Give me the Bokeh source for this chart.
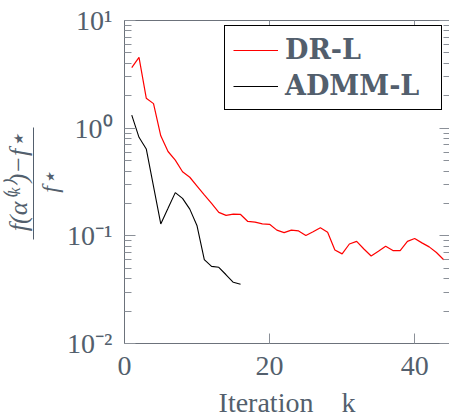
import math
from bokeh.plotting import figure
from bokeh.models import (FixedTicker, LogAxis, LinearAxis, Range1d, Legend)
from bokeh.embed import file_html
from bokeh.resources import INLINE

# ---- data ----
k_dr = list(range(1, 45))
dr_l = [3.65, 4.55, 1.90, 1.69, 0.85, 0.607, 0.505, 0.394, 0.35, 0.29,
        0.24, 0.20, 0.165, 0.155, 0.159, 0.158, 0.136, 0.134, 0.129, 0.128,
        0.113, 0.107, 0.113, 0.111, 0.1007, 0.109, 0.119, 0.108, 0.074, 0.068,
        0.084, 0.0888, 0.0755, 0.065, 0.072, 0.080, 0.073, 0.073, 0.0888, 0.0944,
        0.086, 0.079, 0.070, 0.060]
k_admm = list(range(1, 17))
admm_l = [1.32, 0.822, 0.641, 0.288, 0.129, 0.18, 0.252, 0.223, 0.177, 0.124,
          0.060, 0.052, 0.051, 0.0435, 0.037, 0.0355]
x_ticks = [0, 20, 40]
x_tick_labels = ["0", "20", "40"]
y_ticks = [0.01, 0.1, 1.0, 10.0]
y_tick_labels = ["10\u207b\u00b2", "10\u207b\u00b9", "10\u2070", "10\u00b9"]
x_label = "Iteration\u2003k"
y_label_num = "f(\u03b1\u207d\u1d4f\u207e)\u2212f\u22c6"
y_label_den = "f\u22c6"

TEXT = "#535f6d"
AXIS = "#6c727b"
TICK = "#8b9098"
SERIF = "Liberation Serif"

p = figure(width=449, height=420, y_axis_type="log",
           x_range=Range1d(0, 44.8), y_range=Range1d(0.01, 10),
           output_backend="svg", toolbar_location=None,
           x_axis_location=None, y_axis_location=None)
p.min_border_left = 124
p.min_border_right = 0
p.min_border_top = 20
p.min_border_bottom = 73
p.outline_line_color = None
p.xgrid.visible = False
p.ygrid.visible = False
p.background_fill_color = "white"
p.border_fill_color = "white"

minor_y = [round(m * 10 ** e, 6) for e in (-2, -1, 0) for m in range(2, 10)]

def hide_labels(ax):
    ax.major_label_text_font_size = "1px"
    ax.major_label_text_alpha = 0
    ax.major_label_standoff = 0

# left axis with tick labels (closest to the frame)
ya = LogAxis(ticker=FixedTicker(ticks=y_ticks, minor_ticks=minor_y))
ya.axis_line_color = AXIS
ya.major_tick_line_color = TICK
ya.minor_tick_line_color = TICK
ya.major_tick_in, ya.major_tick_out = 11, 0
ya.minor_tick_in, ya.minor_tick_out = 7, 0
ya.major_label_overrides = {t: l for t, l in zip(y_ticks, y_tick_labels)}
ya.major_label_text_font = SERIF
ya.major_label_text_font_size = "28px"
ya.major_label_text_color = TEXT
ya.major_label_standoff = 12
p.add_layout(ya, "left")

# denominator of the y label
yb = LogAxis(ticker=FixedTicker(ticks=[], minor_ticks=[]))
yb.axis_line_color = None
yb.major_tick_out = 0
yb.major_tick_in = 0
yb.minor_tick_out = 0
yb.minor_tick_in = 0
hide_labels(yb)
yb.axis_label = y_label_den
yb.axis_label_text_font = SERIF
yb.axis_label_text_font_style = "italic"
yb.axis_label_text_font_size = "24px"
yb.axis_label_text_color = TEXT
yb.axis_label_standoff = 2
p.add_layout(yb, "left")

# numerator of the y label; its axis line is the fraction bar
yc = LogAxis(ticker=FixedTicker(ticks=[], minor_ticks=[]))
yc.axis_line_color = TEXT
yc.axis_line_width = 1
yc.bounds = (10 ** (-1.037), 10 ** 0.009)
yc.major_tick_out = 0
yc.major_tick_in = 0
yc.minor_tick_out = 0
yc.minor_tick_in = 0
hide_labels(yc)
yc.axis_label = y_label_num
yc.axis_label_text_font = SERIF
yc.axis_label_text_font_style = "italic"
yc.axis_label_text_font_size = "26px"
yc.axis_label_text_color = TEXT
yc.axis_label_standoff = 1
p.add_layout(yc, "left")

# right axis: inward ticks only
yr = LogAxis(ticker=FixedTicker(ticks=y_ticks, minor_ticks=minor_y))
yr.axis_line_color = None
yr.major_tick_line_color = TICK
yr.minor_tick_line_color = TICK
yr.major_tick_in, yr.major_tick_out = 10, 0
yr.minor_tick_in, yr.minor_tick_out = 6, 0
hide_labels(yr)
p.add_layout(yr, "right")

# bottom axis
xa = LinearAxis(ticker=FixedTicker(ticks=x_ticks, minor_ticks=[]))
xa.axis_line_color = AXIS
xa.major_tick_line_color = TICK
xa.major_tick_in, xa.major_tick_out = 10, 0
xa.minor_tick_in, xa.minor_tick_out = 0, 0
xa.major_label_overrides = {t: l for t, l in zip(x_ticks, x_tick_labels)}
xa.major_label_text_font = SERIF
xa.major_label_text_font_size = "28px"
xa.major_label_text_color = TEXT
xa.major_label_standoff = 13
xa.axis_label = x_label
xa.axis_label_text_font = SERIF
xa.axis_label_text_font_style = "normal"
xa.axis_label_text_font_size = "28px"
xa.axis_label_text_color = TEXT
xa.axis_label_standoff = 9
p.add_layout(xa, "below")

# top axis: inward ticks only
xt = LinearAxis(ticker=FixedTicker(ticks=x_ticks, minor_ticks=[]))
xt.axis_line_color = AXIS
xt.major_tick_line_color = TICK
xt.major_tick_in, xt.major_tick_out = 7, 0
xt.minor_tick_in, xt.minor_tick_out = 0, 0
hide_labels(xt)
p.add_layout(xt, "above")

r1 = p.line(k_dr, dr_l, line_color="#ff0000", line_width=1.2)
r2 = p.line(k_admm, admm_l, line_color="black", line_width=1.1)

legend = Legend(items=[("DR-L", [r1]), ("ADMM-L", [r2])], location=(100, 233))
legend.label_text_font = "DejaVu Serif"
legend.label_text_font_style = "bold"
legend.label_text_font_size = "27px"
legend.label_text_color = TEXT
legend.border_line_color = "black"
legend.border_line_width = 1
legend.border_line_alpha = 1
legend.background_fill_color = "white"
legend.background_fill_alpha = 1
legend.glyph_width = 45
legend.glyph_height = 30
legend.label_height = 30
legend.label_width = 148
legend.label_standoff = 7
legend.spacing = 5
legend.padding = 8
legend.margin = 0
p.add_layout(legend, "center")

open("out.html", "w").write(file_html(p, INLINE))
